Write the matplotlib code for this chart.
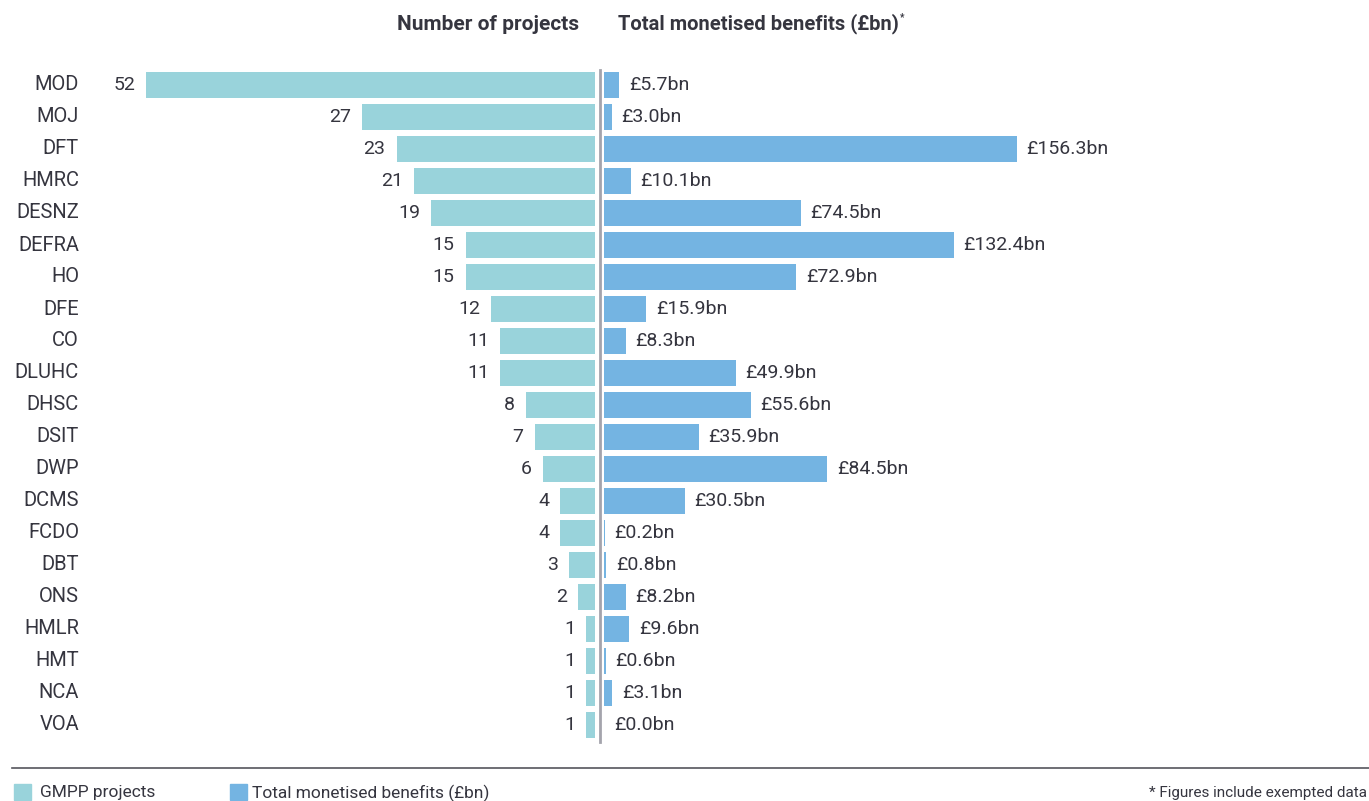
import matplotlib.pyplot as plt
from matplotlib.patches import Rectangle
from matplotlib.lines import Line2D

plt.rcParams['font.family'] = ['Roboto', 'DejaVu Sans']

depts = ["MOD", "MOJ", "DFT", "HMRC", "DESNZ", "DEFRA", "HO", "DFE", "CO", "DLUHC",
         "DHSC", "DSIT", "DWP", "DCMS", "FCDO", "DBT", "ONS", "HMLR", "HMT", "NCA", "VOA"]
projects = [52, 27, 23, 21, 19, 15, 15, 12, 11, 11, 8, 7, 6, 4, 4, 3, 2, 1, 1, 1, 1]
benefits = [5.7, 3.0, 156.3, 10.1, 74.5, 132.4, 72.9, 15.9, 8.3, 49.9, 55.6, 35.9,
            84.5, 30.5, 0.2, 0.8, 8.2, 9.6, 0.6, 3.1, 0.0]

W, H = 1369, 801
teal = "#99d3db"
blue = "#74b4e2"
txt = "#35353f"

fig = plt.figure(figsize=(W / 100, H / 100), dpi=100)


def box(x0, y0, x1, y1):
    # pixel box (top-left origin) -> figure fraction
    return [x0 / W, 1 - y1 / H, (x1 - x0) / W, (y1 - y0) / H]


def fx(x):
    return x / W


def fy(y):
    return 1 - y / H


n = len(depts)
ypos = list(range(n))

# left: number of projects
axl = fig.add_axes(box(100, 69, 595, 741))
axl.barh(ypos, projects, height=0.8, color=teal)
axl.set_xlim(495 / 8.63, 0)
axl.set_ylim(n - 0.5, -0.5)
axl.axis("off")
for i, v in enumerate(projects):
    axl.annotate(str(v), (v, i), xytext=(-8, 0), textcoords="offset points",
                 ha="right", va="center", fontsize=14, color=txt)

# right: monetised benefits
axr = fig.add_axes(box(604, 69, 1300, 741))
axr.barh(ypos, benefits, height=0.8, color=blue)
axr.set_xlim(0, 696 / 2.64)
axr.set_ylim(n - 0.5, -0.5)
axr.axis("off")
for i, v in enumerate(benefits):
    axr.annotate(f"£{v:.1f}bn", (v, i), xytext=(7, 0), textcoords="offset points",
                 ha="left", va="center", fontsize=14, color=txt)

# department labels
for i, d in enumerate(depts):
    fig.text(fx(79), fy(85 + 32 * i), d, ha="right", va="center",
             fontsize=14.5, color=txt)

# centre divider
fig.add_artist(Line2D([fx(599.5), fx(599.5)], [fy(70), fy(742)],
                      color="#a4a4ac", lw=2))

# headers
fig.text(fx(579), fy(24), "Number of projects", ha="right", va="center",
         fontsize=15, fontweight="bold", color=txt)
fig.text(fx(618), fy(24), "Total monetised benefits (£bn)", ha="left",
         va="center", fontsize=14.5, fontweight="bold", color=txt)
fig.text(fx(900), fy(17), "*", ha="left", va="center", fontsize=7,
         fontweight="bold", color=txt)

# bottom rule
fig.add_artist(Line2D([fx(12), fx(1369)], [fy(768), fy(768)], color="#55555c", lw=1.2))

# legend
fig.add_artist(Rectangle((fx(14), fy(800)), 17 / W, 16 / H, transform=fig.transFigure,
                         color=teal))
fig.text(fx(40), fy(793), "GMPP projects", ha="left", va="center", fontsize=12.5, color=txt)
fig.add_artist(Rectangle((fx(230), fy(800)), 17 / W, 16 / H, transform=fig.transFigure,
                         color=blue))
fig.text(fx(252), fy(793), "Total monetised benefits (£bn)", ha="left", va="center",
         fontsize=12.5, color=txt)
fig.text(fx(1367), fy(793), "* Figures include exempted data", ha="right", va="center",
         fontsize=11, color=txt)

fig.savefig("out.png", dpi=100)
